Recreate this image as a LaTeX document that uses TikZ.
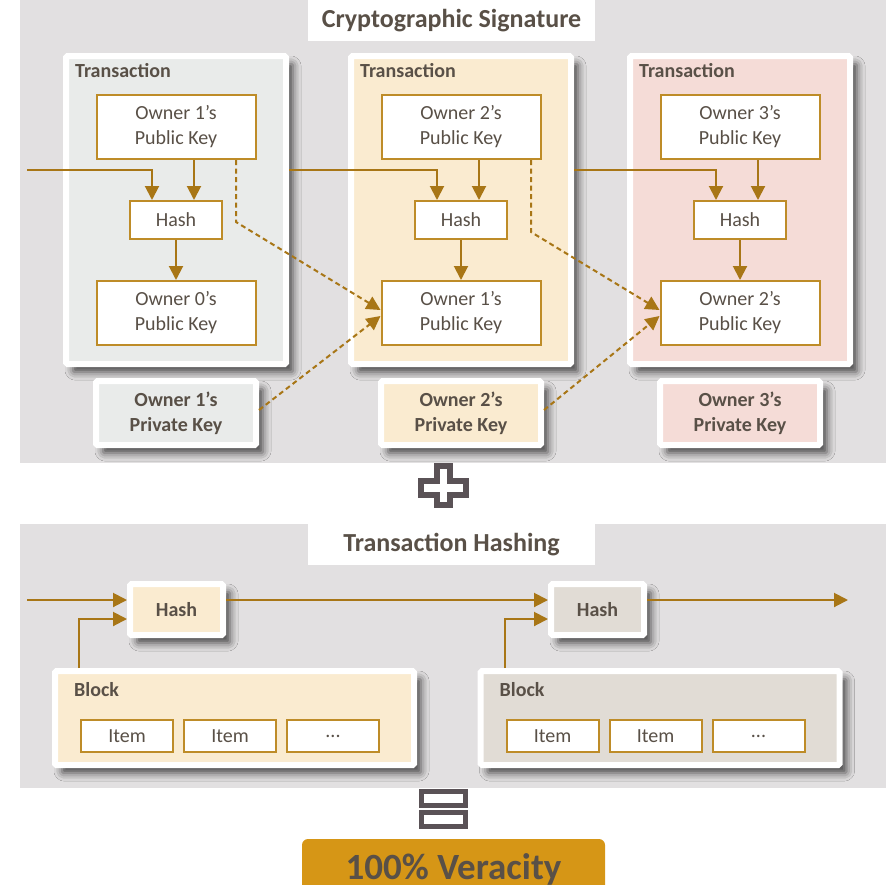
\documentclass[tikz,border=0pt]{standalone}
\usepackage{fontspec}
\setmainfont{Carlito}
\usetikzlibrary{arrows.meta, positioning, shadows.blur}
\definecolor{panelgray}{RGB}{226,224,225}
\definecolor{txgray}{RGB}{233,235,234}
\definecolor{txpeach}{RGB}{250,235,208}
\definecolor{txrose}{RGB}{245,220,215}
\definecolor{blocktaupe}{RGB}{225,220,213}
\definecolor{inkbrown}{RGB}{89,80,71}
\definecolor{linkgold}{RGB}{168,118,22}
\definecolor{edgegold}{RGB}{190,140,40}
\definecolor{veracitygold}{RGB}{214,150,22}
\definecolor{signgray}{RGB}{90,82,86}

\begin{document}
\begin{tikzpicture}[x=1pt, y=-1pt, text=inkbrown,
  framed/.style={draw=white, line width=6pt, rounded corners=1.5pt,
    blur shadow={shadow xshift=7pt, shadow yshift=-8pt, shadow blur radius=8pt, shadow opacity=70}},
  keybox/.style={draw=edgegold, line width=2pt, fill=white, minimum width=159pt,
    minimum height=64pt, align=center, font=\fontsize{20}{25}\selectfont},
  hashbox/.style={keybox, minimum width=92pt, minimum height=38pt},
  itembox/.style={keybox, minimum width=92pt, minimum height=32pt},
  boldtext/.style={font=\fontsize{20}{25}\selectfont\bfseries, align=center},
  headlabel/.style={font=\fontsize{20}{24}\selectfont\bfseries, anchor=base west, inner sep=0pt},
  paneltitle/.style={fill=white, minimum width=287pt, minimum height=41pt, inner sep=0pt,
    font=\fontsize{26}{30}\selectfont\bfseries},
  link/.style={draw=linkgold, line width=2pt, -{Triangle[length=14pt,width=14pt]}},
  sigline/.style={link, dash pattern=on 5pt off 3.5pt}]
  \path[use as bounding box, clip] (0,0) rectangle (886,884);

  % two gray panels with their titles
  \fill[panelgray] (20,0) rectangle (886,463);
  \fill[panelgray] (20,524) rectangle (886,788);
  \node[paneltitle] (sigtitle) at (451.5,20.5) {Cryptographic Signature};
  \node[paneltitle] (hashtitle) at (451.5,544.5) {Transaction Hashing};

  % transactions
  \foreach \n/\m/\cx/\clr in {1/0/176/txgray, 2/1/461/txpeach, 3/2/740/txrose} {
    \node[framed, fill=\clr, minimum width=220pt, minimum height=308pt] (T\n) at (\cx,210) {};
    \node[headlabel] at (\cx-101,77) {Transaction};
    \node[keybox] (P\n) at (\cx,127) {Owner \n’s\\Public Key};
    \node[hashbox] (H\n) at (\cx,220) {Hash};
    \node[keybox] (Q\n) at (\cx,313) {Owner \m’s\\Public Key};
    \node[framed, boldtext, fill=\clr, minimum width=160pt, minimum height=64pt] (K\n) at (\cx,413)
      {Owner \n’s\\Private Key};
  }

  % chain of hashes
  \coordinate (in0) at (27,170);
  \draw[link] (in0) -| ([xshift=-24pt]H1.north);
  \draw[link] (T1.east |- in0) -| ([xshift=-24pt]H2.north);
  \draw[link] (T2.east |- in0) -| ([xshift=-24pt]H3.north);
  \foreach \n in {1,2,3} {
    \draw[link] ([xshift=18pt]P\n.south) -- ([xshift=18pt]H\n.north);
    \draw[link] (H\n) -- (Q\n);
  }

  % signatures
  \foreach \n/\nn/\bx/\by in {1/2/236/222, 2/3/531/232} {
    \coordinate (B\n) at (\bx,\by);
    \draw[sigline] (B\n |- P\n.south) -- (B\n) -- ([yshift=3pt]Q\nn.west);
    \draw[sigline] ([yshift=3pt]K\n.east) -- ([yshift=-3pt]Q\nn.west);
  }

  % blocks
  \foreach \n/\cx/\hx/\clr in {1/234.5/176.5/txpeach, 2/660/597.5/blocktaupe} {
    \node[framed, boldtext, fill=\clr, minimum width=93pt, minimum height=51pt] (G\n) at (\hx,609.5) {Hash};
    \node[framed, fill=\clr, minimum width=359pt, minimum height=94pt] (L\n) at (\cx,718) {};
    \node[headlabel] at ([xshift=22pt, yshift=-28pt]L\n.north west) {Block};
    \node[itembox] (I\n a) at ([xshift=75pt, yshift=-18pt]L\n.west) {Item};
    \node[itembox, right=9pt of I\n a] (I\n b) {Item};
    \node[itembox, right=9pt of I\n b] (I\n c) {...};
    \draw[link] ([xshift=27pt]L\n.north west) |- ([yshift=-9.5pt]G\n.west);
  }
  \coordinate (in1) at (27,600);
  \coordinate (out) at (848,600);
  \draw[link] (in1) -- ([yshift=9.5pt]G1.west);
  \draw[link] ([yshift=9.5pt]G1.east) -- ([yshift=9.5pt]G2.west);
  \draw[link] ([yshift=9.5pt]G2.east) -- (out);

  % plus and equals signs
  \draw[signgray, line width=6pt, fill=white] (437,466) -- (450,466) -- (450,481) -- (466,481)
    -- (466,495) -- (450,495) -- (450,505) -- (437,505) -- (437,495) -- (421,495)
    -- (421,481) -- (437,481) -- cycle;
  \draw[signgray, line width=5pt, fill=white] (421.5,791.5) rectangle (465.5,805.5);
  \draw[signgray, line width=5pt, fill=white] (421.5,812.5) rectangle (465.5,826.5);

  % result
  \node[fill=veracitygold, rounded corners=6pt, minimum width=303pt, minimum height=60pt,
    font=\fontsize{37}{40}\selectfont\bfseries] (result) at (453.5,869) {100\% Veracity};
\end{tikzpicture}
\end{document}
